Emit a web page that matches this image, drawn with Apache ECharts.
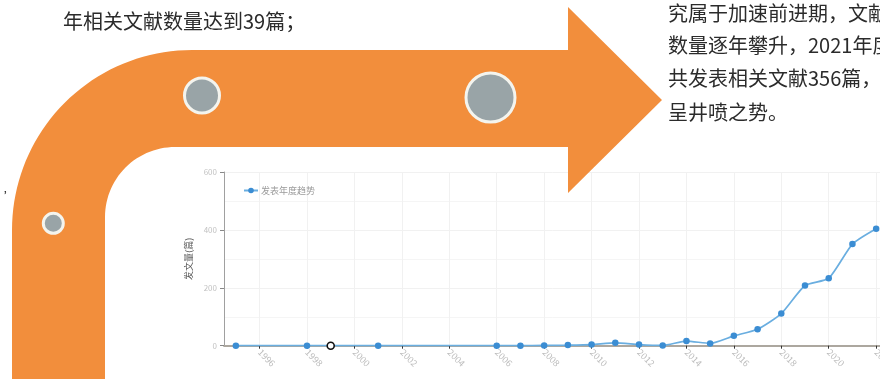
<!DOCTYPE html>
<html>
<head>
<meta charset="utf-8">
<script src="https://cdn.jsdelivr.net/npm/echarts@6/dist/echarts.min.js"></script>
<style>
html,body{margin:0;padding:0;background:#ffffff;}
#chart{width:880px;height:379px;}
</style>
</head>
<body>
<div id="chart"></div>
<script>
// ---- data ----
const years = ['1995','1996','1997','1998','1999','2000','2001','2002','2003','2004','2005','2006','2007','2008','2009','2010','2011','2012','2013','2014','2015','2016','2017','2018','2019','2020','2021','2022'];
const counts = [0,null,null,0,0,null,0,null,null,null,null,0,0,1,2,4,10,4,1,16,8,34,57,111,208,233,351,404];
const markedYear = '1999';
const yTicks = [0, 200, 400, 600];
const seriesName = '发表年度趋势';
const yName = '发文量(篇)';
const leftText = '年相关文献数量达到39篇；';
const rightLines = ['究属于加速前进期，文献', '数量逐年攀升，2021年度', '共发表相关文献356篇，', '呈井喷之势。'];

const FONT = '"Noto Sans CJK SC", "Noto Sans", sans-serif';
const ORANGE = '#F28E3C';
const GREY = '#99A4A7';

const seriesData = counts.map((v, i) => {
  if (years[i] === markedYear) {
    return { value: v, symbolSize: 7, itemStyle: { color: '#ffffff', borderColor: '#111111', borderWidth: 1.6 } };
  }
  return v;
});

// decorative bent arrow outline (not data)
function arcPts(cx, cy, r, a0, a1, n) {
  const pts = [];
  for (let k = 0; k <= n; k++) {
    const a = a0 + (a1 - a0) * k / n;
    pts.push([cx + r * Math.cos(a), cy + r * Math.sin(a)]);
  }
  return pts;
}
const arrowPts = [].concat(
  [[12, 400]],
  arcPts(192, 230, 180, Math.PI, Math.PI * 1.5, 40),
  [[568, 50], [568, 7], [662, 100], [568, 193], [568, 147]],
  arcPts(175, 217, 70, Math.PI * 1.5, Math.PI, 30),
  [[105, 400]]
);

const graphics = [
  { type: 'polygon', z: 50, shape: { points: arrowPts }, style: { fill: ORANGE } },
  { type: 'circle', z: 51, shape: { cx: 202, cy: 95.5, r: 17.5 }, style: { fill: GREY, stroke: '#f4f4ee', lineWidth: 3 } },
  { type: 'circle', z: 51, shape: { cx: 490.5, cy: 97.5, r: 24.5 }, style: { fill: GREY, stroke: '#f4f4ee', lineWidth: 3 } },
  { type: 'circle', z: 51, shape: { cx: 53.3, cy: 223.3, r: 10 }, style: { fill: GREY, stroke: '#f4f4ee', lineWidth: 3 } },
  { type: 'text', z: 52, style: { text: leftText, x: 63, y: 21.5, verticalAlign: 'middle', fontSize: 20, fontFamily: FONT, fill: '#2b2b2b' } },
  { type: 'text', z: 52, style: { text: '\u2019', x: 4, y: 197, verticalAlign: 'middle', fontSize: 11, fontFamily: FONT, fill: '#222' } }
];
const lineY = [13, 45.5, 78.5, 112];
rightLines.forEach((t, i) => {
  graphics.push({ type: 'text', z: 52, style: { text: t, x: 668, y: lineY[i], verticalAlign: 'middle', fontSize: 20, fontFamily: FONT, fill: '#2b2b2b' } });
});

const chart = echarts.init(document.getElementById('chart'), null, { renderer: 'canvas' });
chart.setOption({
  backgroundColor: '#ffffff',
  animation: false,
  textStyle: { fontFamily: FONT },
  graphic: graphics,
  legend: {
    left: 238, top: 181,
    itemWidth: 14, itemHeight: 7,
    itemGap: 4,
    textStyle: { fontSize: 9, color: '#9a9a9a', fontFamily: FONT, padding: [0, 0, 0, -2] },
    data: [seriesName]
  },
  grid: { left: 224, top: 172, width: 664, height: 173.7, containLabel: false, outerBoundsMode: 'none' },
  xAxis: {
    type: 'category',
    data: years,
    boundaryGap: true,
    axisLine: { show: true, lineStyle: { color: '#aca79f', width: 1.8 } },
    axisTick: { show: true, alignWithLabel: true, length: 3, interval: (i) => i % 2 === 1, lineStyle: { color: '#333' } },
    axisLabel: { interval: (i) => i % 2 === 1, rotate: -45, fontSize: 9, color: '#bdbdbd', margin: 5 },
    splitLine: { show: true, alignWithLabel: true, interval: (i) => i % 2 === 1, lineStyle: { color: '#f1f1f1', width: 1 } }
  },
  yAxis: {
    type: 'value',
    min: yTicks[0], max: yTicks[yTicks.length - 1], interval: 200,
    name: yName,
    nameLocation: 'middle',
    nameRotate: 90,
    nameGap: 28,
    nameTextStyle: { fontSize: 9, color: '#555', fontFamily: FONT },
    axisLine: { show: true, lineStyle: { color: '#a0a0a0', width: 1 } },
    axisTick: { show: true, length: 4, lineStyle: { color: '#888' } },
    axisLabel: { fontSize: 8, color: '#c2c2c2', margin: 7 },
    splitLine: { show: true, lineStyle: { color: '#f1f1f1' } },
    minorTick: { show: false, splitNumber: 2 },
    minorSplitLine: { show: true, lineStyle: { color: '#f5f5f5' } }
  },
  series: [{
    name: seriesName,
    type: 'line',
    data: seriesData,
    connectNulls: true,
    smooth: 0.2,
    symbol: 'circle',
    symbolSize: 6.5,
    showSymbol: true,
    lineStyle: { color: '#6aaee0', width: 1.7 },
    itemStyle: { color: '#3b8dd3' },
    z: 10
  }]
});
</script>
</body>
</html>
